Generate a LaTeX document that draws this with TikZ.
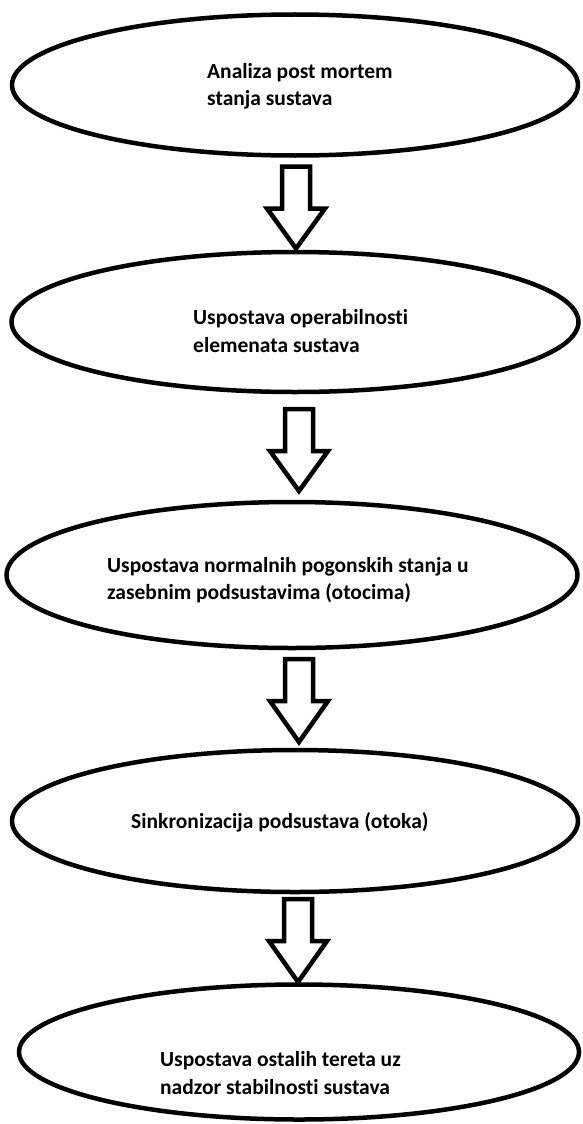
\documentclass[tikz,border=0pt]{standalone}
\usepackage{fontspec}
\setmainfont[Ligatures={NoCommon}]{Carlito}
\usetikzlibrary{shapes.geometric}
\newcommand\BlkArr[3]{% coordinate name, shaft length, head length
  \draw[blockarrow] (#1) ++(-14,0) -- ++(28,0) -- ++(0,#2) -- ++(15,0) -- ++(-29,#3) -- ++(-29,-#3) -- ++(15,0) -- cycle;}
\begin{document}
\begin{tikzpicture}[x=1pt,y=-1pt,
  oval/.style={draw, line width=4.5pt, ellipse, inner sep=0pt, outer sep=0pt},
  lbl/.style={font=\bfseries\fontsize{21.5}{27.5}\selectfont, align=left, inner sep=0pt, anchor=west},
  blockarrow/.style={draw, line width=4.5pt, line join=miter, fill=white}]
\path[use as bounding box] (0,0) rectangle (582,1124);
\node[oval, minimum width=566, minimum height=141] (e1) at (295,85) {};
\node[oval, minimum width=567, minimum height=140] (e2) at (295,322) {};
\node[oval, minimum width=571, minimum height=146] (e3) at (292,575) {};
\node[oval, minimum width=566, minimum height=142] (e4) at (295,821) {};
\node[oval, minimum width=560, minimum height=135] (e5) at (299,1052) {};
\node[lbl] (t1) at (207,86.5) {Analiza post mortem\\stanja sustava};
\node[lbl] (t2) at (193,331) {Uspostava operabilnosti\\elemenata sustava};
\node[lbl] (t3) at (107,580) {Uspostava normalnih pogonskih stanja u\\zasebnim podsustavima (otocima)};
\node[lbl] (t4) at (131,822) {Sinkronizacija podsustava (otoka)};
\node[lbl] (t5) at (160,1073) {Uspostava ostalih tereta uz\\nadzor stabilnosti sustava};
\coordinate (a1) at ([xshift=1pt,yshift=-11pt]e1.south);
\coordinate (a2) at ([xshift=4pt,yshift=-17pt]e2.south);
\coordinate (a3) at ([xshift=7pt,yshift=-11pt]e3.south);
\coordinate (a4) at ([xshift=3pt,yshift=-7pt]e4.south);
\BlkArr{a1}{42}{40}
\BlkArr{a2}{42}{40}
\BlkArr{a3}{42}{41}
\BlkArr{a4}{42}{41}
\end{tikzpicture}
\end{document}
